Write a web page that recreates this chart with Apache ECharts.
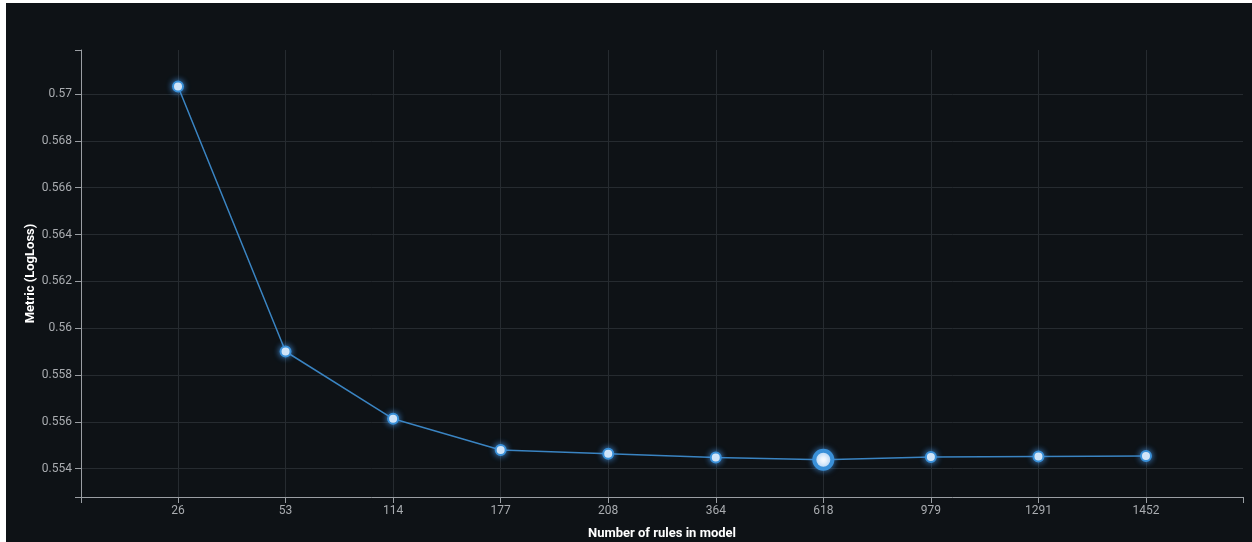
<!DOCTYPE html>
<html>
<head>
<meta charset="utf-8">
<script src="https://cdn.jsdelivr.net/npm/echarts@6/dist/echarts.min.js"></script>
<style>
  html, body { margin: 0; padding: 0; background: #ffffff; width: 1252px; height: 542px; overflow: hidden; }
  #chart { position: absolute; left: 6px; top: 3px; width: 1246px; height: 539px; background: #0e1216; }
</style>
</head>
<body>
<div id="chart"></div>
<script>
const categories = ['26', '53', '114', '177', '208', '364', '618', '979', '1291', '1452'];
const logLoss = [0.57032, 0.559005, 0.556133, 0.554798, 0.55464, 0.554482, 0.554384, 0.554499, 0.554525, 0.554542];
const yTicks = [0.554, 0.556, 0.558, 0.56, 0.562, 0.564, 0.566, 0.568, 0.57];
const yMin = 0.552793;
const yMax = 0.571877;
const xMin = -0.902;
const xMax = 9.902;

const bestIndex = logLoss.indexOf(Math.min.apply(null, logLoss));
const idx = categories.map((c, i) => i);

const chart = echarts.init(document.getElementById('chart'), null, { renderer: 'canvas' });

const axisColor = '#9a9ea3';
const labelColor = '#a9acb0';
const gridColor = '#262b30';
const font = 'Roboto, "Noto Sans", sans-serif';

const seriesData = logLoss.map((v, i) => {
  if (i === bestIndex) {
    return {
      value: [i, v],
      symbolSize: 18,
      itemStyle: { color: '#ffffff', borderColor: '#3a90d8', borderWidth: 4, shadowBlur: 6, shadowColor: 'rgba(70,150,230,0.7)' }
    };
  }
  return [i, v];
});

chart.setOption({
  backgroundColor: '#0e1216',
  animation: false,
  grid: { left: 75, right: 9, top: 47, bottom: 45, containLabel: false, outerBoundsMode: 'none' },
  xAxis: [{
    type: 'value',
    min: xMin,
    max: xMax,
    name: 'Number of rules in model',
    nameLocation: 'middle',
    nameGap: 30,
    nameMoveOverlap: false,
    nameTextStyle: { color: '#ffffff', fontWeight: 'bold', fontSize: 13, fontFamily: font },
    axisLine: { show: true, onZero: false, lineStyle: { color: axisColor, width: 1 } },
    axisTick: { show: true, length: 6, lineStyle: { color: axisColor }, customValues: idx },
    axisLabel: {
      show: true, color: labelColor, fontSize: 12, fontFamily: font, margin: 8,
      customValues: idx,
      formatter: v => categories[Math.round(v)] || ''
    },
    splitLine: { show: true, lineStyle: { color: gridColor, width: 1 } }
  }, {
    type: 'value',
    min: xMin,
    max: xMax,
    position: 'bottom',
    axisLine: { show: false, onZero: false },
    axisTick: { show: true, length: 6, lineStyle: { color: axisColor }, customValues: [xMin, xMax] },
    axisLabel: { show: false },
    splitLine: { show: false }
  }],
  yAxis: [{
    type: 'value',
    min: yMin,
    max: yMax,
    name: 'Metric (LogLoss)',
    nameLocation: 'middle',
    nameGap: 44,
    nameMoveOverlap: false,
    nameTextStyle: { color: '#ffffff', fontWeight: 'bold', fontSize: 13, fontFamily: font },
    axisLine: { show: true, onZero: false, lineStyle: { color: axisColor, width: 1 } },
    axisTick: { show: true, length: 6, lineStyle: { color: axisColor }, customValues: yTicks },
    axisLabel: {
      show: true, color: labelColor, fontSize: 12, fontFamily: font, margin: 9,
      customValues: yTicks,
      formatter: v => String(+v.toFixed(3))
    },
    splitLine: { show: true, lineStyle: { color: gridColor, width: 1 } }
  }, {
    type: 'value',
    min: yMin,
    max: yMax,
    position: 'left',
    axisLine: { show: false, onZero: false },
    axisTick: { show: true, length: 6, lineStyle: { color: axisColor }, customValues: [yMin, yMax] },
    axisLabel: { show: false },
    splitLine: { show: false }
  }],
  series: [{
    type: 'line',
    xAxisIndex: 0,
    yAxisIndex: 0,
    data: seriesData,
    symbol: 'circle',
    symbolSize: 10,
    showAllSymbol: true,
    lineStyle: { color: '#3a84c2', width: 1.5 },
    itemStyle: { color: '#ffffff', borderColor: '#3a90d8', borderWidth: 2, shadowBlur: 6, shadowColor: 'rgba(70,150,230,0.9)' },
    emphasis: { disabled: true },
    z: 3
  }]
});
</script>
</body>
</html>
